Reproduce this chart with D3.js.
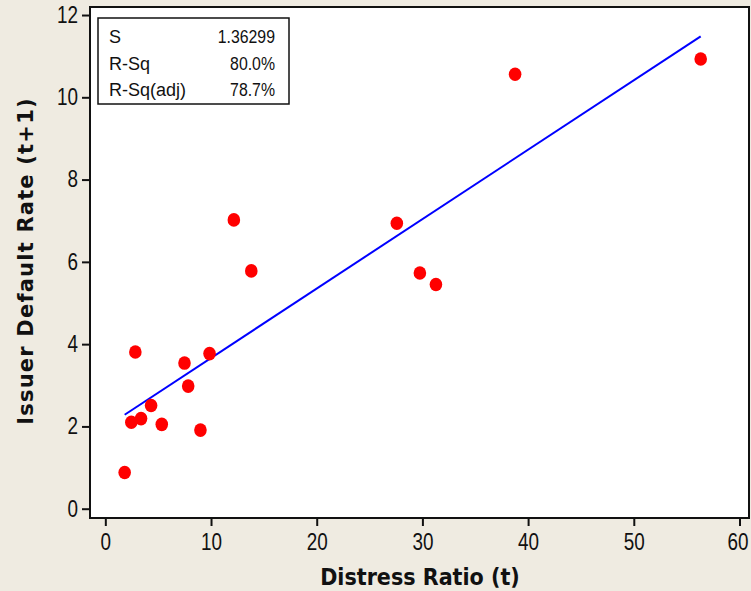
<!DOCTYPE html>
<html>
<head>
<meta charset="utf-8">
<script src="https://cdn.jsdelivr.net/npm/d3@7"></script>
<style>
  body { margin: 0; background: #efebe1; }
  svg { display: block; }
</style>
</head>
<body>
<div id="chart"></div>
<script>
// values
const distressRatio = [1.83, 2.46, 2.84, 3.38, 4.33, 5.34, 7.49, 7.84, 9.0, 9.86, 12.16, 13.81, 27.58, 29.76, 31.28, 38.77, 56.33];
const defaultRate = [0.88, 2.10, 3.81, 2.19, 2.51, 2.05, 3.54, 2.98, 1.91, 3.77, 7.02, 5.78, 6.94, 5.73, 5.45, 10.56, 10.93];
const statLabels = ['S', 'R-Sq', 'R-Sq(adj)'];
const statValues = ['1.36299', '80.0%', '78.7%'];
const xTicks = [0, 10, 20, 30, 40, 50, 60];
const yTicks = [0, 2, 4, 6, 8, 10, 12];

const width = 751, height = 591;
const sans = '"Liberation Sans", Arial, sans-serif';
const narrow = '"Liberation Sans Narrow", "DejaVu Sans Condensed", sans-serif';

// squeeze glyphs a bit, the original uses a narrower face for digits
function squeeze(sel, ratio) {
    sel.each(function () {
        const w = this.getComputedTextLength();
        d3.select(this)
            .attr('textLength', w * ratio)
            .attr('lengthAdjust', 'spacingAndGlyphs');
    });
}

const svg = d3.select('#chart')
    .append('svg')
    .attr('width', width)
    .attr('height', height);

svg.append('rect')
    .attr('width', width)
    .attr('height', height)
    .attr('fill', '#efebe1');

const x = d3.scaleLinear()
    .domain([-1.45, 60.9])
    .range([90, 749]);

const y = d3.scaleLinear()
    .domain([-0.226, 12.195])
    .range([518, 7]);

// plot area
svg.append('rect')
    .attr('x', x.range()[0])
    .attr('y', y.range()[1])
    .attr('width', x.range()[1] - x.range()[0])
    .attr('height', y.range()[0] - y.range()[1])
    .attr('fill', '#fff')
    .attr('stroke', '#111')
    .attr('stroke-width', 2);

const xAxis = d3.axisBottom(x).tickValues(xTicks).tickSize(8).tickSizeOuter(0).tickPadding(8);
const yAxis = d3.axisLeft(y).tickValues(yTicks).tickSize(8).tickSizeOuter(0).tickPadding(4);

const gx = svg.append('g')
    .attr('transform', 'translate(0,' + y.range()[0] + ')')
    .call(xAxis);
const gy = svg.append('g')
    .attr('transform', 'translate(' + x.range()[0] + ',0)')
    .call(yAxis);

[gx, gy].forEach(g => {
    g.select('.domain').remove();
    g.selectAll('line').attr('stroke', '#111').attr('stroke-width', 2);
    g.selectAll('text')
        .style('font-family', sans)
        .style('font-size', '23px')
        .attr('fill', '#111')
        .call(squeeze, 0.82);
});
// last label sits on the window edge
gx.selectAll('text').filter(d => d === xTicks[xTicks.length - 1]).attr('dx', -2);

// least squares fit of the points
const mx = d3.mean(distressRatio), my = d3.mean(defaultRate);
let sxy = 0, sxx = 0;
distressRatio.forEach((v, i) => {
    sxy += (v - mx) * (defaultRate[i] - my);
    sxx += (v - mx) * (v - mx);
});
const slope = sxy / sxx;
const intercept = my - slope * mx;
const xExt = d3.extent(distressRatio);

svg.append('path')
    .datum(xExt)
    .attr('fill', 'none')
    .attr('stroke', '#0000ff')
    .attr('stroke-width', 2)
    .attr('d', d3.line()
        .x(d => x(d))
        .y(d => y(intercept + slope * d)));

svg.selectAll('.dot')
    .data(distressRatio)
    .join('ellipse')
    .attr('class', 'dot')
    .attr('cx', d => x(d))
    .attr('cy', (d, i) => y(defaultRate[i]))
    .attr('rx', 6.3)
    .attr('ry', 6.8)
    .attr('fill', '#ff0000');

// stats box
const box = svg.append('g');
box.append('rect')
    .attr('x', 98)
    .attr('y', 18)
    .attr('width', 191)
    .attr('height', 86)
    .attr('fill', '#fff')
    .attr('stroke', '#111')
    .attr('stroke-width', 1.5);

box.selectAll('.lab')
    .data(statLabels)
    .join('text')
    .attr('class', 'lab')
    .attr('x', 109)
    .attr('y', (d, i) => 43 + i * 26.5)
    .style('font-family', sans)
    .style('font-size', '18px')
    .attr('fill', '#111')
    .text(d => d);

box.selectAll('.val')
    .data(statValues)
    .join('text')
    .attr('class', 'val')
    .attr('x', 275)
    .attr('y', (d, i) => 43 + i * 26.5)
    .attr('text-anchor', 'end')
    .style('font-family', sans)
    .style('font-size', '18px')
    .attr('fill', '#111')
    .text(d => d)
    .call(squeeze, 0.88);

// axis titles
svg.append('text')
    .attr('x', 420)
    .attr('y', 585)
    .attr('text-anchor', 'middle')
    .style('font-family', narrow)
    .style('font-size', '23px')
    .style('font-weight', 'bold')
    .attr('fill', '#111')
    .text('Distress Ratio (t)');

svg.append('text')
    .attr('transform', 'translate(33,261) rotate(-90)')
    .attr('text-anchor', 'middle')
    .style('font-family', '"DejaVu Sans", Verdana, sans-serif')
    .style('font-size', '21px')
    .style('font-weight', 'bold')
    .style('letter-spacing', '1.2px')
    .attr('fill', '#111')
    .text('Issuer Default Rate (t+1)');
</script>
</body>
</html>
